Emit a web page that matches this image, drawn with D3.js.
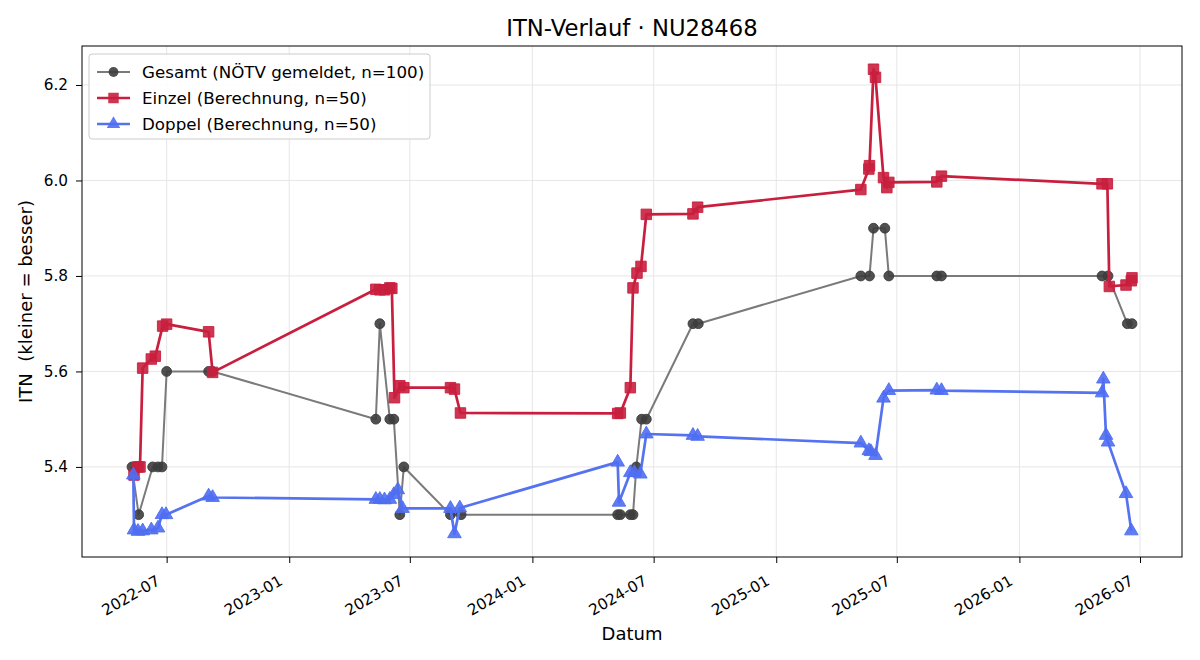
<!DOCTYPE html>
<html>
<head>
<meta charset="utf-8">
<script src="https://cdn.jsdelivr.net/npm/d3@7"></script>
<style>
  body { margin: 0; background: #fff; }
  svg { font-family: "DejaVu Sans", sans-serif; }
</style>
</head>
<body>
<div id="chart"></div>
<script>
// Gesamt (NÖTV gemeldet)
var gesamtDates = ["2022-05-10","2022-05-20","2022-06-10","2022-06-18","2022-06-24","2022-07-01","2022-09-02","2022-09-08",
  "2023-05-11","2023-05-17","2023-06-01","2023-06-07","2023-06-16","2023-06-22","2023-08-31","2023-09-16",
  "2024-05-08","2024-05-12","2024-05-27","2024-05-31","2024-06-05","2024-06-13","2024-06-20","2024-08-29","2024-09-06",
  "2025-05-08","2025-05-21","2025-05-27","2025-06-13","2025-06-19","2025-08-30","2025-09-06",
  "2026-05-05","2026-05-14","2026-06-12","2026-06-19"];
var gesamtValues = [5.40,5.30,5.40,5.40,5.40,5.60,5.60,5.60,
  5.50,5.70,5.50,5.50,5.30,5.40,5.30,5.30,
  5.30,5.30,5.30,5.30,5.40,5.50,5.50,5.70,5.70,
  5.80,5.80,5.90,5.90,5.80,5.80,5.80,
  5.80,5.80,5.70,5.70];

// Einzel (Berechnung)
var einzelDates = ["2022-05-13","2022-05-19","2022-05-22","2022-05-26","2022-06-08","2022-06-14","2022-06-25","2022-07-01","2022-09-02","2022-09-08",
  "2023-05-11","2023-05-17","2023-05-24","2023-06-01","2023-06-04","2023-06-08","2023-06-16","2023-06-22","2023-08-31","2023-09-06","2023-09-15",
  "2024-05-08","2024-05-12","2024-05-27","2024-05-31","2024-06-06","2024-06-12","2024-06-20","2024-08-29","2024-09-05",
  "2025-05-08","2025-05-20","2025-05-21","2025-05-27","2025-05-30","2025-06-11","2025-06-16","2025-06-19","2025-08-30","2025-09-06",
  "2026-05-05","2026-05-13","2026-05-16","2026-06-10","2026-06-18","2026-06-19"];
var einzelValues = [5.383,5.400,5.400,5.607,5.626,5.632,5.695,5.699,5.683,5.598,
  5.772,5.771,5.771,5.775,5.774,5.545,5.570,5.566,5.566,5.563,5.513,
  5.512,5.513,5.566,5.775,5.806,5.820,5.929,5.930,5.944,
  5.981,6.024,6.031,6.233,6.216,6.006,5.985,5.996,5.997,6.009,
  5.993,5.993,5.778,5.781,5.790,5.796];

// Doppel (Berechnung)
var doppelDates = ["2022-05-12","2022-05-13","2022-05-19","2022-05-26","2022-06-08","2022-06-18","2022-06-24","2022-06-30","2022-09-02","2022-09-08",
  "2023-05-11","2023-05-17","2023-05-24","2023-06-01","2023-06-07","2023-06-13","2023-06-20","2023-08-31","2023-09-06","2023-09-14",
  "2024-05-08","2024-05-10","2024-05-27","2024-06-02","2024-06-11","2024-06-20","2024-08-29","2024-09-05",
  "2025-05-08","2025-05-20","2025-05-23","2025-05-30","2025-06-11","2025-06-19","2025-08-30","2025-09-06",
  "2026-05-05","2026-05-07","2026-05-11","2026-05-14","2026-06-10","2026-06-18"];
var doppelValues = [5.383,5.268,5.265,5.266,5.268,5.272,5.300,5.300,5.339,5.336,
  5.332,5.332,5.331,5.332,5.342,5.352,5.313,5.313,5.260,5.314,
  5.410,5.326,5.388,5.388,5.385,5.469,5.466,5.464,
  5.450,5.434,5.432,5.424,5.544,5.560,5.561,5.560,
  5.555,5.584,5.466,5.452,5.344,5.266];

var yTicks = [5.4, 5.6, 5.8, 6.0, 6.2];
var seriesNames = ["Gesamt (NÖTV gemeldet, n=100)", "Einzel (Berechnung, n=50)", "Doppel (Berechnung, n=50)"];

var parse = d3.timeParse("%Y-%m-%d");
function zip(dates, values) {
    return dates.map(function(d, i) { return { date: parse(d), value: values[i] }; });
}

var series = [
    { name: seriesNames[0], data: zip(gesamtDates, gesamtValues), line: "#7a7a7a", mark: "#3d3d3d", width: 2, shape: "circle" },
    { name: seriesNames[1], data: zip(einzelDates, einzelValues), line: "#c91f3e", mark: "#c91f3e", width: 2.7, shape: "square" },
    { name: seriesNames[2], data: zip(doppelDates, doppelValues), line: "#5573f0", mark: "#4f6ef2", width: 2.7, shape: "triangle" }
];

var W = 1200, H = 660;
var margin = { top: 46, right: 18, bottom: 103, left: 82 };
var width = W - margin.left - margin.right,
    height = H - margin.top - margin.bottom;

var all = series[0].data.concat(series[1].data, series[2].data);
var xExt = d3.extent(all, function(d) { return d.date; });
var yExt = d3.extent(all, function(d) { return d.value; });
var xPad = (xExt[1] - xExt[0]) * 0.05;
var yPad = (yExt[1] - yExt[0]) * 0.05;

var x = d3.scaleTime()
    .domain([new Date(+xExt[0] - xPad), new Date(+xExt[1] + xPad)])
    .range([0, width]);

var y = d3.scaleLinear()
    .domain([yExt[0] - yPad, yExt[1] + yPad])
    .range([height, 0]);

var svg = d3.select("#chart").append("svg")
    .attr("width", W)
    .attr("height", H);

var g = svg.append("g")
    .attr("transform", "translate(" + margin.left + "," + margin.top + ")");

var xTickVals = d3.timeMonth.every(6).range(x.domain()[0], x.domain()[1]);

// grid
g.append("g").selectAll("line")
    .data(xTickVals).enter().append("line")
    .attr("x1", function(d) { return x(d); })
    .attr("x2", function(d) { return x(d); })
    .attr("y1", 0).attr("y2", height)
    .attr("stroke", "#e3e3e3").attr("stroke-width", 0.9);

g.append("g").selectAll("line")
    .data(yTicks).enter().append("line")
    .attr("x1", 0).attr("x2", width)
    .attr("y1", function(d) { return y(d); })
    .attr("y2", function(d) { return y(d); })
    .attr("stroke", "#e3e3e3").attr("stroke-width", 0.9);

// axes
var xAxis = d3.axisBottom(x)
    .tickValues(xTickVals)
    .tickFormat(d3.timeFormat("%Y-%m"))
    .tickSize(6)
    .tickPadding(4);

var yAxis = d3.axisLeft(y)
    .tickValues(yTicks)
    .tickFormat(d3.format(".1f"))
    .tickSize(6)
    .tickPadding(8);

var gx = g.append("g")
    .attr("transform", "translate(0," + height + ")")
    .call(xAxis)
    .attr("font-family", "DejaVu Sans")
    .attr("font-size", 15.3);
gx.select(".domain").remove();
gx.selectAll("line").attr("stroke", "#000");
gx.selectAll("text")
    .attr("fill", "#000")
    .attr("text-anchor", "end")
    .attr("x", 0)
    .attr("y", 0)
    .attr("dy", "0")
    .attr("transform", "translate(-6,27) rotate(-30)");

var gy = g.append("g")
    .call(yAxis)
    .attr("font-family", "DejaVu Sans")
    .attr("font-size", 15.3);
gy.select(".domain").remove();
gy.selectAll("line").attr("stroke", "#000");
gy.selectAll("text").attr("fill", "#000");

// lines + markers
var line = d3.line()
    .x(function(d) { return x(d.date); })
    .y(function(d) { return y(d.value); });

function symbolFor(shape) {
    if (shape === "square") return d3.symbol().type(d3.symbolSquare).size(110);
    if (shape === "triangle") return d3.symbol().type(d3.symbolTriangle).size(80);
    return d3.symbol().type(d3.symbolCircle).size(76);
}

series.forEach(function(s) {
    var sg = g.append("g");
    sg.append("path")
        .datum(s.data)
        .attr("d", line)
        .attr("fill", "none")
        .attr("stroke", s.line)
        .attr("stroke-width", s.width)
        .attr("stroke-linejoin", "round");

    sg.selectAll(".m")
        .data(s.data)
        .enter().append("path")
        .attr("class", "m")
        .attr("d", symbolFor(s.shape))
        .attr("transform", function(d) { return "translate(" + x(d.date) + "," + y(d.value) + ")"; })
        .attr("fill", s.mark)
        .attr("fill-opacity", 0.9)
        .attr("stroke", s.mark)
        .attr("stroke-opacity", 0.9)
        .attr("stroke-width", 1);
});

// frame
g.append("rect")
    .attr("width", width)
    .attr("height", height)
    .attr("fill", "none")
    .attr("stroke", "#000")
    .attr("stroke-width", 1);

// title + labels
svg.append("text")
    .attr("x", margin.left + width / 2)
    .attr("y", 36)
    .attr("text-anchor", "middle")
    .style("font-size", "22.7px")
    .text("ITN-Verlauf · NU28468");

svg.append("text")
    .attr("x", margin.left + width / 2)
    .attr("y", 640)
    .attr("text-anchor", "middle")
    .style("font-size", "18px")
    .text("Datum");

svg.append("text")
    .attr("transform", "rotate(-90)")
    .attr("x", -(margin.top + height / 2))
    .attr("y", 32)
    .attr("text-anchor", "middle")
    .style("font-size", "18px")
    .attr("xml:space", "preserve")
    .text("ITN  (kleiner = besser)");

// legend
var legend = g.append("g").attr("transform", "translate(7,8)");
legend.append("rect")
    .attr("width", 341)
    .attr("height", 85)
    .attr("rx", 3)
    .attr("fill", "#fff")
    .attr("fill-opacity", 0.85)
    .attr("stroke", "#cccccc");

series.forEach(function(s, i) {
    var ly = 18 + i * 26;
    legend.append("line")
        .attr("x1", 8).attr("x2", 41)
        .attr("y1", ly).attr("y2", ly)
        .attr("stroke", s.line)
        .attr("stroke-width", s.width);
    legend.append("path")
        .attr("d", symbolFor(s.shape))
        .attr("transform", "translate(24.5," + ly + ")")
        .attr("fill", s.mark)
        .attr("fill-opacity", 0.9);
    legend.append("text")
        .attr("x", 53)
        .attr("y", ly + 6)
        .style("font-size", "16.7px")
        .text(s.name);
});
</script>
</body>
</html>
